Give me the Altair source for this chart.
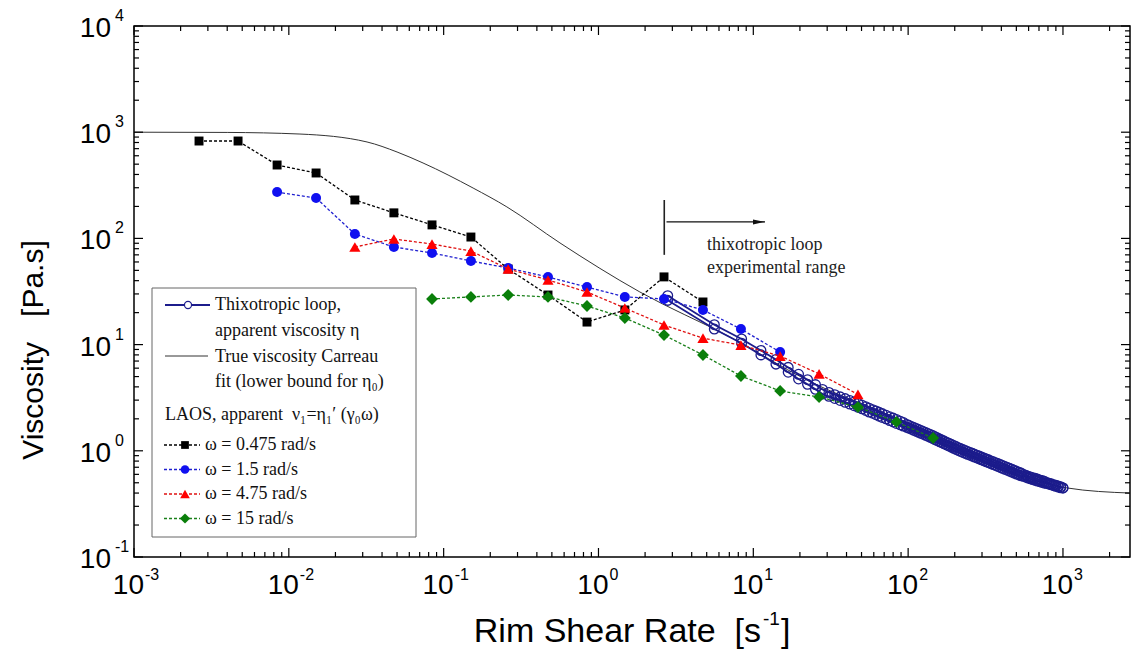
import altair as alt
import pandas as pd

# ---------------------------------------------------------------------------
# Data
# ---------------------------------------------------------------------------
# LAOS first-harmonic apparent viscosity nu_1 = eta_1'(gamma_0 * omega)
rate_w0475 = [0.00263, 0.0047, 0.0084, 0.015, 0.0267, 0.0477, 0.0841, 0.150,
              0.261, 0.472, 0.843, 1.48, 2.65, 4.73]
eta_w0475 = [826, 826, 491, 413, 230, 174, 134, 103, 51.5, 29.3, 16.3, 21.2,
             43.4, 25.2]

rate_w15 = [0.0084, 0.015, 0.0267, 0.0477, 0.0841, 0.150, 0.261, 0.472, 0.843,
            1.48, 2.65, 4.73, 8.32, 14.9]
eta_w15 = [273, 240, 110, 83, 72.9, 61.3, 52.6, 43.3, 34.9, 28.1, 26.9, 21.2,
           14.0, 8.5]

rate_w475 = [0.0267, 0.0477, 0.0841, 0.150, 0.261, 0.472, 0.843, 1.48, 2.65,
             4.73, 8.32, 14.9, 26.6, 47.4]
eta_w475 = [83, 98.7, 88.5, 76, 51.5, 40.6, 31.3, 22.1, 15.3, 11.5, 9.9, 7.8,
            5.3, 3.4]

rate_w150 = [0.0841, 0.150, 0.261, 0.472, 0.843, 1.48, 2.65, 4.73, 8.32, 14.9,
             26.6, 47.4, 84.0, 145]
eta_w150 = [26.9, 28.1, 29.3, 28.1, 23.1, 17.8, 12.3, 7.98, 5.06, 3.66, 3.21,
            2.58, 1.87, 1.32]

# Thixotropic loop: shear-rate ramp up to 1000 1/s (eta_up) and back (eta_down)
loop_rate = [2.8, 5.6, 8.4, 11.2, 14.0, 16.8, 19.6, 22.4, 25.2, 28.0,
             30.8, 33.6, 36.4, 39.2, 42.0, 44.8, 47.6, 50.4, 53.2, 56.0,
             59, 62, 65, 68, 72, 76, 80, 84, 89, 93,
             98, 101, 105, 109, 113, 117, 121, 125, 130, 134,
             139, 144, 149, 154, 160, 165, 171, 177, 183, 190,
             197, 204, 211, 218, 226, 234, 242, 251, 260, 269,
             278, 288, 298, 309, 320, 331, 343, 355, 367, 380,
             394, 407, 422, 437, 452, 468, 484, 501, 519, 537,
             556, 576, 596, 617, 638, 661, 684, 708, 733, 759,
             785, 813, 841, 871, 901, 933, 966, 1000]
loop_eta_up = [28.9, 15.4, 11.3, 8.8, 7.25, 6.1, 5.25, 4.67, 4.2, 3.78,
               3.54, 3.37, 3.22, 3.10, 2.98, 2.88, 2.79, 2.69, 2.60, 2.52,
               2.44, 2.37, 2.30, 2.24, 2.16, 2.09, 2.03, 1.97, 1.90, 1.85,
               1.770, 1.737, 1.695, 1.656, 1.620, 1.585, 1.552, 1.521, 1.485, 1.457,
               1.424, 1.394, 1.357, 1.327, 1.293, 1.266, 1.235, 1.206, 1.179, 1.149,
               1.122, 1.095, 1.070, 1.048, 1.026, 1.005, 0.986, 0.965, 0.946, 0.927,
               0.909, 0.891, 0.872, 0.855, 0.837, 0.821, 0.803, 0.788, 0.773, 0.757,
               0.741, 0.727, 0.712, 0.697, 0.683, 0.670, 0.656, 0.643, 0.629, 0.617,
               0.599, 0.587, 0.576, 0.567, 0.558, 0.550, 0.541, 0.532, 0.524, 0.516,
               0.503, 0.495, 0.488, 0.480, 0.473, 0.466, 0.459, 0.447]
loop_eta_down = [26.1, 14.0, 10.3, 8.0, 6.55, 5.5, 4.75, 4.23, 3.8, 3.42,
                 3.26, 3.11, 2.98, 2.86, 2.76, 2.66, 2.57, 2.49, 2.40, 2.32,
                 2.26, 2.19, 2.12, 2.06, 2.00, 1.93, 1.87, 1.81, 1.76, 1.71,
                 1.666, 1.635, 1.597, 1.560, 1.526, 1.493, 1.462, 1.433, 1.399, 1.373,
                 1.342, 1.312, 1.277, 1.249, 1.217, 1.192, 1.163, 1.136, 1.111, 1.083,
                 1.056, 1.031, 1.008, 0.986, 0.966, 0.947, 0.928, 0.909, 0.890, 0.873,
                 0.857, 0.839, 0.822, 0.805, 0.789, 0.773, 0.757, 0.742, 0.728, 0.713,
                 0.697, 0.685, 0.670, 0.657, 0.643, 0.631, 0.618, 0.605, 0.593, 0.581,
                 0.575, 0.564, 0.554, 0.545, 0.536, 0.528, 0.519, 0.512, 0.504, 0.496,
                 0.493, 0.485, 0.478, 0.470, 0.463, 0.456, 0.449, 0.447]

# Carreau fit of the true viscosity
carreau_rate = [0.001, 0.004, 0.0118, 0.032, 0.05, 0.0736, 0.155, 0.256, 0.564,
                1.85, 7.06, 22.2, 98, 300, 1062, 2710]
carreau_eta = [1000, 995, 961, 809, 651, 513, 298, 198, 90.6, 31.3, 11.8, 4.64,
               1.83, 0.80, 0.447, 0.40]

# Start of the loop's experimental range and the annotation texts
range_start = 2.66
note_lines = ["thixotropic loop", "experimental range"]

# Axis decades
x_decades = [-3, -2, -1, 0, 1, 2, 3]
y_decades = [-1, 0, 1, 2, 3, 4]

# ---------------------------------------------------------------------------
# Layout
# ---------------------------------------------------------------------------
W, H = 996, 531
X_MAX = 2710
NAVY = "#1c1c8c"
SANS = "Liberation Sans"
SERIF = "Liberation Serif"
NB = "\u00a0"

x_scale = alt.Scale(type="log", domain=[1e-3, X_MAX], nice=False)
y_scale = alt.Scale(type="log", domain=[0.1, 1e4], nice=False)


def X(field):
    return alt.X(f"{field}:Q", scale=x_scale, axis=None)


def Y(field):
    return alt.Y(f"{field}:Q", scale=y_scale, axis=None)


one = pd.DataFrame({"k": [0]})
layers = []

# --- Carreau fit -----------------------------------------------------------
carreau_df = pd.DataFrame({"rate": carreau_rate, "eta": carreau_eta})
layers.append(
    alt.Chart(carreau_df).mark_line(color="#333333", strokeWidth=1.0,
                                    interpolate="monotone")
    .encode(x=X("rate"), y=Y("eta"))
)

# --- Thixotropic loop (hollow circles joined up and back) ------------------
n = len(loop_rate)
loop_df = pd.DataFrame({
    "rate": loop_rate + loop_rate[::-1],
    "eta": loop_eta_up + loop_eta_down[::-1],
    "seq": list(range(2 * n)),
})
layers.append(
    alt.Chart(loop_df).mark_line(color=NAVY, strokeWidth=1.8)
    .encode(x=X("rate"), y=Y("eta"), order="seq:Q")
)
layers.append(
    alt.Chart(loop_df).mark_point(shape="circle", filled=False, color=NAVY,
                                  strokeWidth=1.3, size=95, opacity=1)
    .encode(x=X("rate"), y=Y("eta"))
)

# --- LAOS series -----------------------------------------------------------
laos = [
    ("ω = 0.475 rad/s", rate_w0475, eta_w0475, "#000000", "#000000", "square", 80),
    ("ω = 1.5 rad/s", rate_w15, eta_w15, "#2020d0", "#1010f0", "circle", 100),
    ("ω = 4.75 rad/s", rate_w475, eta_w475, "#e01010", "#ff0000", "triangle-up", 125),
    ("ω = 15 rad/s", rate_w150, eta_w150, "#1a801a", "#0a7f0a", "diamond", 140),
]
for name, r, e, line_col, fill_col, shape, size in laos:
    df = pd.DataFrame({"rate": r, "eta": e})
    layers.append(
        alt.Chart(df).mark_line(color=line_col, strokeDash=[3, 2], strokeWidth=1.3)
        .encode(x=X("rate"), y=Y("eta"))
    )
    layers.append(
        alt.Chart(df).mark_point(shape=shape, filled=True, color=fill_col,
                                 size=size, opacity=1)
        .encode(x=X("rate"), y=Y("eta"))
    )

# --- Experimental-range annotation ----------------------------------------
vline_df = pd.DataFrame({"x": [range_start], "y1": [70], "y2": [230]})
layers.append(
    alt.Chart(vline_df).mark_rule(color="#222222", strokeWidth=1.6)
    .encode(x=X("x"), y=Y("y1"), y2="y2:Q")
)
arrow_df = pd.DataFrame({"x1": [2.75], "x2": [11.9], "y": [143]})
layers.append(
    alt.Chart(arrow_df).mark_rule(color="#111111", strokeWidth=1.4)
    .encode(x=X("x1"), x2="x2:Q", y=Y("y"))
)
layers.append(
    alt.Chart(arrow_df).mark_point(shape="M-4.8,-1L0,0L-4.8,1Z", filled=True,
                                   color="#111111", size=25, opacity=1)
    .encode(x=X("x2"), y=Y("y"))
)
note_df = pd.DataFrame({"x": [5.02, 5.02], "y": [86.7, 52.6], "t": note_lines})
layers.append(
    alt.Chart(note_df).mark_text(align="left", baseline="middle", font=SERIF,
                                 fontSize=18, color="#222222")
    .encode(x=X("x"), y=Y("y"), text="t:N")
)

# --- Frame ticks (inward, on all four sides) -------------------------------
x_major = [10.0 ** d for d in x_decades]
x_minor = [k * 10.0 ** d for d in x_decades for k in range(2, 10)
           if k * 10.0 ** d <= X_MAX]
y_major = [10.0 ** d for d in y_decades]
y_minor = [k * 10.0 ** d for d in y_decades[:-1] for k in range(2, 10)]

for vals, ln in ((x_major, 9), (x_minor, 5)):
    tdf = pd.DataFrame({"v": vals})
    layers.append(alt.Chart(tdf).mark_rule(color="black", strokeWidth=1.2)
                  .encode(x=X("v"), y=alt.value(H), y2=alt.value(H - ln)))
    layers.append(alt.Chart(tdf).mark_rule(color="black", strokeWidth=1.2)
                  .encode(x=X("v"), y=alt.value(0), y2=alt.value(ln)))
for vals, ln in ((y_major, 9), (y_minor, 5)):
    tdf = pd.DataFrame({"v": vals})
    layers.append(alt.Chart(tdf).mark_rule(color="black", strokeWidth=1.2)
                  .encode(y=Y("v"), x=alt.value(0), x2=alt.value(ln)))
    layers.append(alt.Chart(tdf).mark_rule(color="black", strokeWidth=1.2)
                  .encode(y=Y("v"), x=alt.value(W), x2=alt.value(W - ln)))

# --- Tick labels as 10 with a raised exponent ------------------------------
xl_df = pd.DataFrame({"v": x_major, "e": [str(d) for d in x_decades]})
layers.append(
    alt.Chart(xl_df).mark_text(text="10", align="right", baseline="middle",
                               font=SANS, fontSize=28, dx=10, color="black")
    .encode(x=X("v"), y=alt.value(H + 29))
)
layers.append(
    alt.Chart(xl_df).mark_text(align="left", baseline="middle", font=SANS,
                               fontSize=16, dx=11, color="black")
    .encode(x=X("v"), y=alt.value(H + 18), text="e:N")
)
yl_df = pd.DataFrame({"v": y_major, "e": [str(d) for d in y_decades]})
layers.append(
    alt.Chart(yl_df).mark_text(text="10", align="right", baseline="middle",
                               font=SANS, fontSize=28, dy=3, color="black")
    .encode(y=Y("v"), x=alt.value(-23))
)
layers.append(
    alt.Chart(yl_df).mark_text(align="left", baseline="middle", font=SANS,
                               fontSize=16, dy=-10, color="black")
    .encode(y=Y("v"), x=alt.value(-19), text="e:N")
)

# --- Axis titles -----------------------------------------------------------
TX, TY = 627, 606
layers.append(alt.Chart(one).mark_text(text=f"Rim Shear Rate{NB}{NB}[s",
                                       align="right", baseline="middle",
                                       font=SANS, fontSize=34)
              .encode(x=alt.value(TX), y=alt.value(TY)))
layers.append(alt.Chart(one).mark_text(text="-1", align="left", baseline="middle",
                                       font=SANS, fontSize=19)
              .encode(x=alt.value(TX + 2), y=alt.value(TY - 13)))
layers.append(alt.Chart(one).mark_text(text="]", align="left", baseline="middle",
                                       font=SANS, fontSize=34)
              .encode(x=alt.value(TX + 20), y=alt.value(TY)))
layers.append(alt.Chart(one).mark_text(text=f"Viscosity{NB}{NB}{NB}[Pa.s]",
                                       angle=270, align="center",
                                       baseline="middle", font=SANS, fontSize=30)
              .encode(x=alt.value(-100), y=alt.value(324)))

# --- Legend ----------------------------------------------------------------
layers.append(alt.Chart(one).mark_rect(fill="white", stroke="#666666", strokeWidth=1)
              .encode(x=alt.value(18), x2=alt.value(282),
                      y=alt.value(262), y2=alt.value(511)))


def legend_text(txt, x, y):
    return (alt.Chart(one).mark_text(text=txt, align="left", baseline="middle",
                                     font=SERIF, fontSize=18, color="#111111")
            .encode(x=alt.value(x), y=alt.value(y)))


layers.append(alt.Chart(one).mark_rule(color=NAVY, strokeWidth=2)
              .encode(x=alt.value(31), x2=alt.value(76), y=alt.value(279)))
layers.append(alt.Chart(one).mark_point(shape="circle", filled=True, fill="white",
                                        stroke=NAVY, strokeWidth=1.2, size=50,
                                        opacity=1)
              .encode(x=alt.value(54), y=alt.value(279)))
layers.append(legend_text("Thixotropic loop,", 81, 279))
layers.append(legend_text("apparent viscosity η", 81, 305))
layers.append(alt.Chart(one).mark_rule(color="#333333", strokeWidth=1)
              .encode(x=alt.value(31), x2=alt.value(74), y=alt.value(330)))
layers.append(legend_text("True viscosity Carreau", 81, 331))
layers.append(legend_text("fit (lower bound for η₀)", 81, 356))
layers.append(legend_text(f"LAOS, apparent {NB}ν₁=η₁′ (γ₀ω)", 31, 389))

for i, (name, r, e, line_col, fill_col, shape, size) in enumerate(laos):
    ly = 419 + 24.5 * i
    layers.append(alt.Chart(one).mark_rule(color=line_col, strokeDash=[3, 2],
                                           strokeWidth=1.3)
                  .encode(x=alt.value(30), x2=alt.value(66), y=alt.value(ly)))
    layers.append(alt.Chart(one).mark_point(shape=shape, filled=True,
                                            color=fill_col, size=size * 0.75,
                                            opacity=1)
                  .encode(x=alt.value(51), y=alt.value(ly)))
    layers.append(legend_text(name, 71, ly))

chart = (
    alt.layer(*layers)
    .properties(width=W, height=H, autosize="none",
                padding={"left": 134, "top": 26, "right": 2, "bottom": 93},
                background="white")
    .configure_view(stroke="black", strokeWidth=1.5)
)

chart.save("out.html", embed_options={"renderer": "svg", "actions": False})
